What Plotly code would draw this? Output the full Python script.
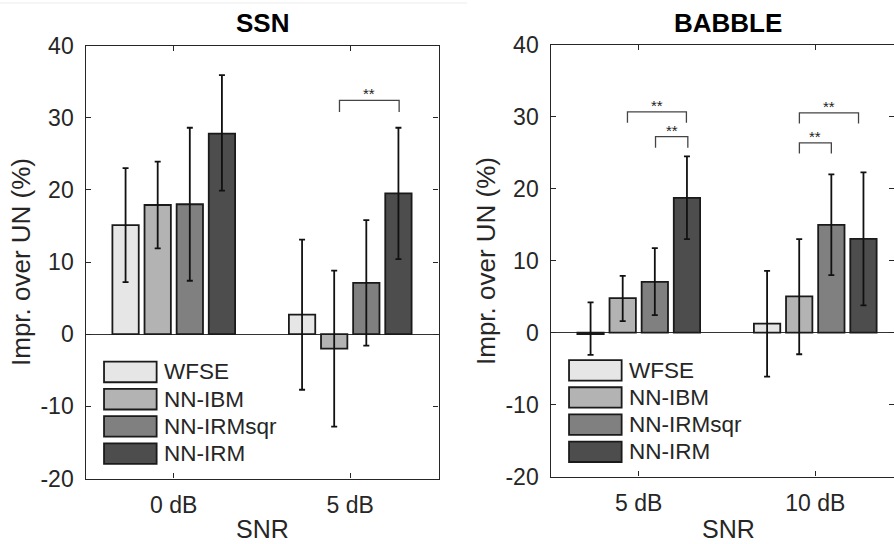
import plotly.graph_objects as go

# ---------------- data ----------------
series = ["WFSE", "NN-IBM", "NN-IRMsqr", "NN-IRM"]
colors = ["#e6e6e6", "#b3b3b3", "#808080", "#4d4d4d"]

ssn_snr = ["0 dB", "5 dB"]
bab_snr = ["5 dB", "10 dB"]

# SSN: means, upper and lower error-bar ends
ssn_mean = {"WFSE": [15.1, 2.7], "NN-IBM": [17.9, -2.0], "NN-IRMsqr": [18.0, 7.1], "NN-IRM": [27.8, 19.5]}
ssn_up = {"WFSE": [23.0, 13.1], "NN-IBM": [23.9, 8.8], "NN-IRMsqr": [28.6, 15.8], "NN-IRM": [35.9, 28.6]}
ssn_lo = {"WFSE": [7.2, -7.7], "NN-IBM": [11.9, -12.8], "NN-IRMsqr": [7.4, -1.6], "NN-IRM": [19.9, 10.4]}

# BABBLE
bab_mean = {"WFSE": [-0.2, 1.25], "NN-IBM": [4.8, 5.05], "NN-IRMsqr": [7.05, 15.0], "NN-IRM": [18.75, 13.05]}
bab_up = {"WFSE": [4.2, 8.6], "NN-IBM": [7.9, 13.0], "NN-IRMsqr": [11.75, 22.0], "NN-IRM": [24.5, 22.3]}
bab_lo = {"WFSE": [-3.1, -6.1], "NN-IBM": [1.6, -3.0], "NN-IRMsqr": [2.45, 8.0], "NN-IRM": [13.0, 3.8]}

yticks = [-20, -10, 0, 10, 20, 30, 40]
ytick_text = ["-20", "-10", "0", "10", "20", "30", "40"]

# significance brackets: (x start, x end, top, leg bottom) in data units
ssn_sig = [(1.939, 2.277, 32.4, 30.8)]
bab_sig = [(0.936, 1.270, 30.7, 29.2), (1.095, 1.278, 27.25, 25.7),
           (1.910, 2.245, 30.55, 29.07), (1.910, 2.091, 26.4, 24.9)]

FONT = "Liberation Sans, Arial, Helvetica, sans-serif"
AX = "#262626"

fig = go.Figure()

def add_panel(mean, up, lo, xa, ya):
    for s, c in zip(series, colors):
        m = mean[s]
        fig.add_trace(go.Bar(
            x=[1, 2], y=m, name=s, showlegend=False,
            marker=dict(color=c, line=dict(color="#1a1a1a", width=1.8)),
            error_y=dict(type="data", symmetric=False,
                         array=[u - v for u, v in zip(up[s], m)],
                         arrayminus=[v - l for v, l in zip(m, lo[s])],
                         color="#111111", thickness=1.8, width=3),
            xaxis=xa, yaxis=ya,
        ))

add_panel(ssn_mean, ssn_up, ssn_lo, "x", "y")
add_panel(bab_mean, bab_up, bab_lo, "x2", "y2")

axis_common = dict(showline=True, linecolor=AX, linewidth=1.4, mirror="allticks",
                   ticks="inside", ticklen=5, tickcolor=AX, tickwidth=1.2,
                   showgrid=False, automargin=False,
                   tickfont=dict(family=FONT, size=23, color="#262626"))

fig.update_layout(
    width=894, height=544,
    margin=dict(l=0, r=0, t=0, b=0, pad=0, autoexpand=False),
    paper_bgcolor="white", plot_bgcolor="white",
    barmode="group", bargap=0.272, bargroupgap=0.18,
    font=dict(family=FONT, color="#262626"),
    showlegend=False,
    xaxis=dict(domain=[85.5 / 894, 438.5 / 894], range=[0.5, 2.5],
               tickvals=[1, 2], ticktext=ssn_snr, zeroline=False, ticklabelstandoff=6,
               anchor="y", **axis_common),
    yaxis=dict(domain=[(544 - 478.5) / 544, (544 - 45.5) / 544], range=[-20, 40],
               tickvals=yticks, ticktext=ytick_text, zeroline=True, zerolinecolor="#333333",
               zerolinewidth=1.3, ticklabelstandoff=6, anchor="x", **axis_common),
    xaxis2=dict(domain=[550.5 / 894, 1.0], range=[0.5, 2.446],
                tickvals=[1, 2], ticktext=bab_snr, zeroline=False, ticklabelstandoff=6,
                anchor="y2", **axis_common),
    yaxis2=dict(domain=[(544 - 476.5) / 544, (544 - 45) / 544], range=[-20, 40],
                tickvals=yticks, ticktext=ytick_text, zeroline=True, zerolinecolor="#333333",
                zerolinewidth=1.3, ticklabelstandoff=6, anchor="x2", **axis_common),
)

shapes = []
ann = []

# faint line at very top
shapes.append(dict(type="line", xref="paper", yref="paper", x0=0, x1=467 / 894,
                   y0=(544 - 3) / 544, y1=(544 - 3) / 544, line=dict(color="#ececec", width=1)))

def add_sig(sig, xr, yr):
    for x0, x1, top, bot in sig:
        shapes.append(dict(type="path", xref=xr, yref=yr,
                           path=f"M{x0},{bot} L{x0},{top} L{x1},{top} L{x1},{bot}",
                           line=dict(color="#444444", width=1.3)))
        ann.append(dict(x=(x0 + x1) / 2, y=top, xref=xr, yref=yr, text="**", showarrow=False,
                        yanchor="bottom", yshift=-4, font=dict(family=FONT, size=15, color="#222222")))

add_sig(ssn_sig, "x", "y")
add_sig(bab_sig, "x2", "y2")

# legend boxes drawn inside each panel
def add_legend(xr, yr):
    for i, (s, c) in enumerate(zip(series, colors)):
        yc = 0.246 - i * 0.0629
        shapes.append(dict(type="rect", xref=xr, yref=yr + " domain", x0=0.605, x1=0.903,
                           y0=yc - 0.0237, y1=yc + 0.0237, fillcolor=c,
                           line=dict(color="#1a1a1a", width=1.8)))
        ann.append(dict(x=0.932, y=yc, xref=xr, yref=yr + " domain", text=s, showarrow=False,
                        xanchor="left", yanchor="middle",
                        font=dict(family=FONT, size=22.5, color="#262626")))

add_legend("x", "y")
add_legend("x2", "y2")

# titles and axis labels
for xc, title in [(262, "SSN"), (728, "BABBLE")]:
    ann.append(dict(x=xc / 894, y=(544 - 22.8) / 544, xref="paper", yref="paper", text=f"<b>{title}</b>",
                    showarrow=False, xanchor="center", yanchor="middle",
                    font=dict(family=FONT, size=26, color="#000000")))
for xc in [262, 728]:
    ann.append(dict(x=xc / 894, y=0, xref="paper", yref="paper", text="SNR",
                    showarrow=False, xanchor="center", yanchor="bottom", borderpad=0,
                    font=dict(family=FONT, size=25, color="#262626")))
for xc, yc in [(21, 262), (486, 261)]:
    ann.append(dict(x=xc / 894, y=(544 - yc) / 544, xref="paper", yref="paper",
                    text="Impr. over UN (%)", textangle=-90, showarrow=False,
                    xanchor="center", yanchor="middle",
                    font=dict(family=FONT, size=26, color="#262626")))

fig.update_layout(shapes=shapes, annotations=ann)

fig.write_html("out.html")
